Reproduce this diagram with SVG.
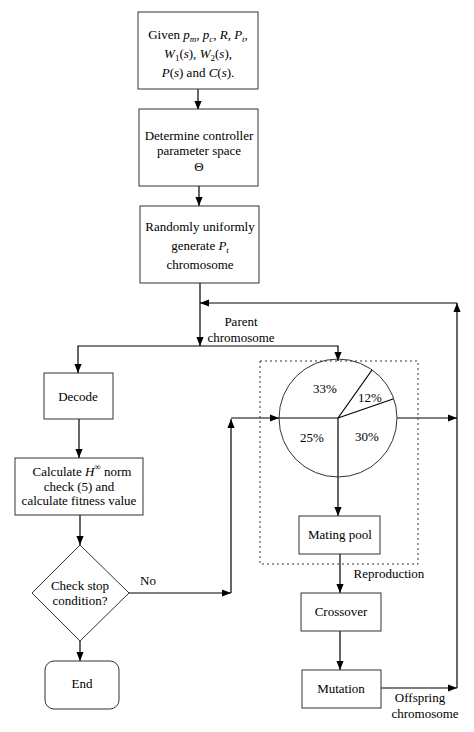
<svg xmlns="http://www.w3.org/2000/svg" width="474" height="732" viewBox="0 0 474 732">
<defs>
<marker id="ah" viewBox="0 0 10 10" refX="10" refY="5" markerWidth="9" markerHeight="9" orient="auto" markerUnits="userSpaceOnUse">
<path d="M0,1 L10,5 L0,9 z" fill="#000"/>
</marker>
<style>
.box{fill:#fff;stroke:#333;stroke-width:1}
.c{fill:none;stroke:#000;stroke-width:1.2}
.a{marker-end:url(#ah)}
text{font-family:"Liberation Serif","Times New Roman",serif;font-size:13px;fill:#000;text-anchor:middle}
.i{font-style:italic}
.s{font-size:9px}
</style>
</defs>
<rect width="474" height="732" fill="#fff"/>

<g id="connectors">
<path class="c a" d="M198,89 V110"/>
<path class="c a" d="M199,186 V206"/>
<path class="c a" d="M200,283 V346"/>
<path class="c a" d="M200,346 H78 V373"/>
<path class="c a" d="M200,346 H338 V361"/>
<path class="c a" d="M79,419 V458"/>
<path class="c a" d="M80,515 V545"/>
<path class="c a" d="M80,641 V661"/>
<path class="c a" d="M129,593 H231"/>
<path class="c a" d="M231,593 V419"/>
<path class="c a" d="M231,418 H279"/>
<path class="c a" d="M338,418 V516"/>
<path class="c a" d="M397,418 H457"/>
<path class="c a" d="M340,554 V593"/>
<path class="c a" d="M340,631 V670"/>
<path class="c a" d="M381,688 H457"/>
<path class="c a" d="M457,688 V303"/>
<path class="c a" d="M457,303 H200"/>
<text x="241" y="326">Parent</text>
<text x="241" y="342">chromosome</text>
<text x="148" y="585">No</text>
<text x="420" y="702">Offspring</text>
<text x="425" y="718">chromosome</text>
</g>

<g id="given">
<rect class="box" x="138" y="12" width="120" height="77"/>
<text x="198" y="39">Given <tspan class="i">p</tspan><tspan class="i s" dy="3">m</tspan><tspan dy="-3">, </tspan><tspan class="i">p</tspan><tspan class="i s" dy="3">c</tspan><tspan dy="-3">, </tspan><tspan class="i">R</tspan>, <tspan class="i">P</tspan><tspan class="i s" dy="3">t</tspan><tspan dy="-3">,</tspan></text>
<text x="198" y="58"><tspan class="i">W</tspan><tspan class="s" dy="3">1</tspan><tspan dy="-3">(</tspan><tspan class="i">s</tspan>), <tspan class="i">W</tspan><tspan class="s" dy="3">2</tspan><tspan dy="-3">(</tspan><tspan class="i">s</tspan>),</text>
<text x="198" y="77"><tspan class="i">P</tspan>(<tspan class="i">s</tspan>) and <tspan class="i">C</tspan>(<tspan class="i">s</tspan>).</text>
</g>

<g id="determine">
<rect class="box" x="139" y="109" width="119" height="77"/>
<text x="199" y="140">Determine controller</text>
<text x="199" y="155">parameter space</text>
<text x="199" y="171">Θ</text>
</g>

<g id="generate">
<rect class="box" x="140" y="206" width="119" height="77"/>
<text x="200" y="231">Randomly uniformly</text>
<text x="200" y="250">generate <tspan class="i">P</tspan><tspan class="i s" dy="3">t</tspan></text>
<text x="200" y="269">chromosome</text>
</g>

<g id="decode">
<rect class="box" x="44" y="373" width="69" height="46"/>
<text x="78" y="401">Decode</text>
</g>

<g id="calculate">
<rect class="box" x="15" y="458" width="128" height="57"/>
<text x="82" y="476">Calculate <tspan class="i">H</tspan><tspan class="s" dy="-6">∞</tspan><tspan dy="6">   norm</tspan></text>
<text x="79" y="491">check (5) and</text>
<text x="79" y="505">calculate fitness value</text>
</g>

<g id="check">
<polygon class="box" points="80,545 129,593 80,641 32,593"/>
<text x="80" y="590">Check stop</text>
<text x="80" y="605">condition?</text>
</g>

<g id="end">
<rect class="box" x="45" y="661" width="74" height="48" rx="9"/>
<text x="82" y="688">End</text>
</g>

<g id="reproduction">
<rect x="260" y="361" width="158" height="203" fill="none" stroke="#333" stroke-width="1" stroke-dasharray="2,3"/>
<text x="389" y="578">Reproduction</text>
</g>

<g id="roulette">
<circle cx="338" cy="418" r="59" fill="none" stroke="#333" stroke-width="1"/>
<path class="c" d="M279,418 H338 M338,418 L372,370 M338,418 L393,399"/>
<text x="325" y="393">33%</text>
<text x="370" y="402">12%</text>
<text x="312" y="442">25%</text>
<text x="367" y="441">30%</text>
</g>

<g id="mating">
<rect class="box" x="299" y="516" width="81" height="38"/>
<text x="340" y="539">Mating pool</text>
</g>

<g id="crossover">
<rect class="box" x="301" y="593" width="80" height="38"/>
<text x="341" y="616">Crossover</text>
</g>

<g id="mutation">
<rect class="box" x="302" y="670" width="79" height="38"/>
<text x="341" y="693">Mutation</text>
</g>
</svg>
